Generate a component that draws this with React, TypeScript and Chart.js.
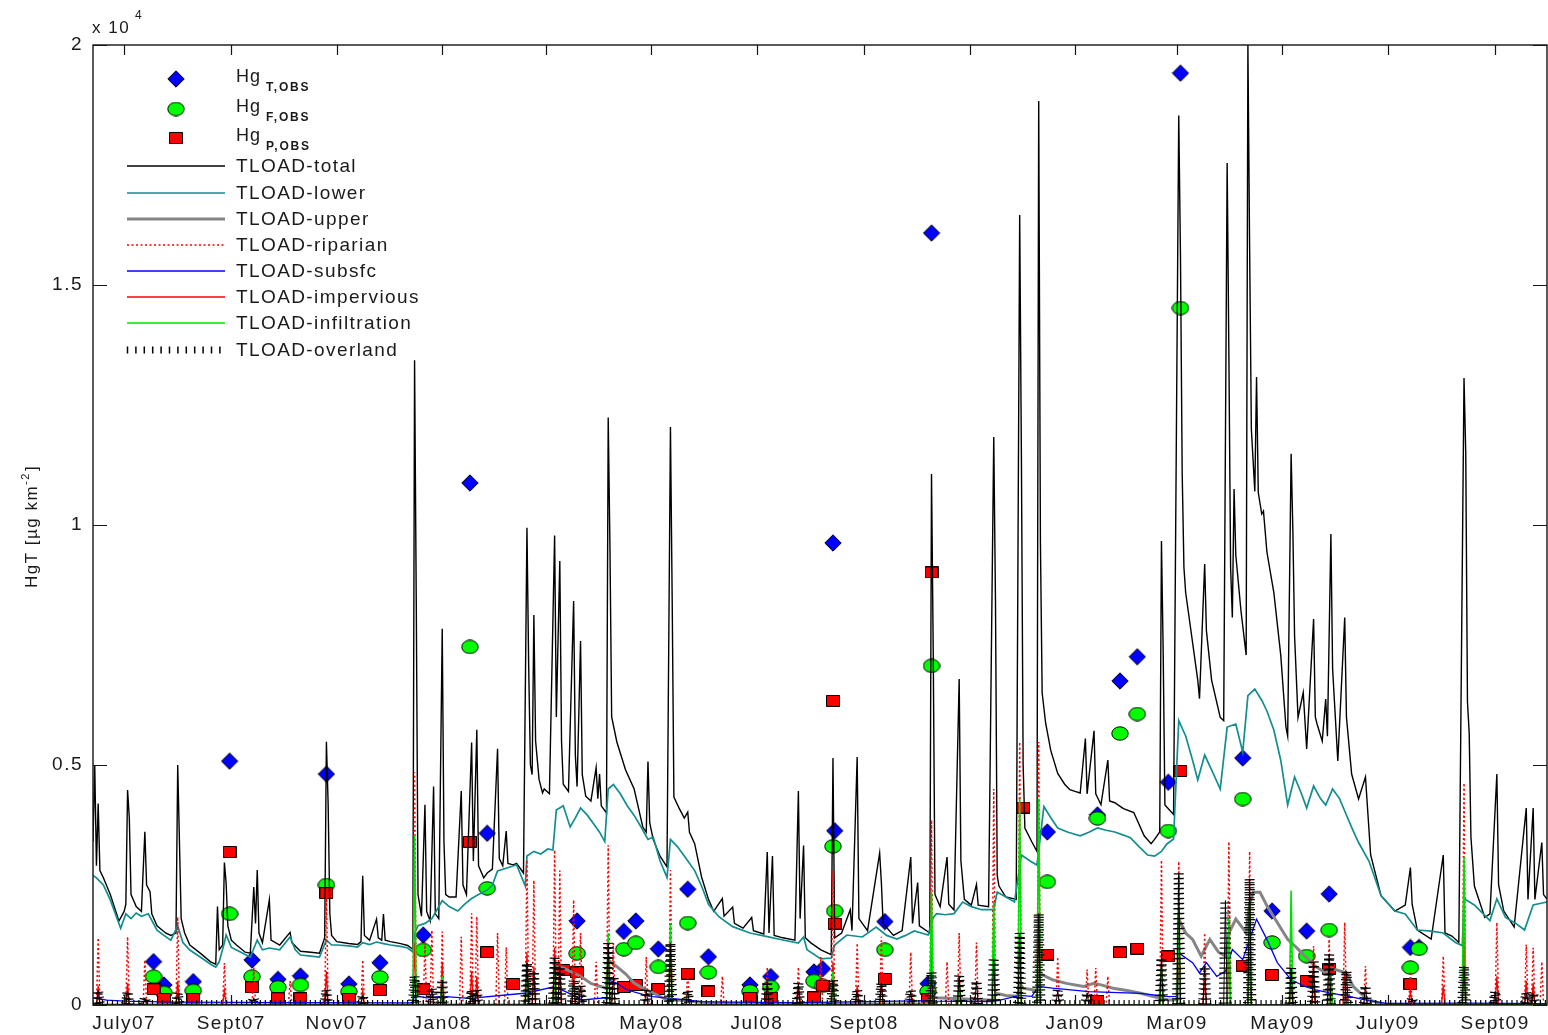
import { useEffect, useRef } from 'react';
import { Chart, registerables } from 'chart.js';

Chart.register(...registerables);

// x values are days counted from 1 July 2007
const X_MIN = -18;
const X_MAX = 823;
const MONTH_TICKS = [0, 62, 123, 184, 244, 305, 366, 428, 489, 550, 609, 670, 731, 793];
const MONTH_LABELS = ['July07', 'Sept07', 'Nov07', 'Jan08', 'Mar08', 'May08', 'Jul08', 'Sept08', 'Nov08', 'Jan09', 'Mar09', 'May09', 'July09', 'Sept09'];
const Y_TICKS = [0, 5000, 10000, 15000, 20000];

type Pair = [number, number];

// daily HgT load, µg km^-2  [day, value]
const TLOAD_TOTAL: Pair[] = [
  [-18, 3400], [-17, 5000], [-16, 2900], [-15, 4200], [-14, 2800], [-12, 2650], [-8, 2300], [-3, 1750], [0, 1950], [1, 2100], [2, 4480], [3, 3900], [4, 2300], [7, 2050], [10, 1950], [12, 3610], [13, 2500], [15, 2360], [16, 1900], [19, 1650], [24, 1500], [27, 1450], [30, 1500], [31, 5000], [32, 3400], [33, 1800], [35, 1500], [38, 1250], [44, 1080], [50, 900], [53, 850], [54, 2050], [55, 1150], [57, 1250], [58, 2970], [59, 2540], [60, 1650], [62, 1350], [65, 1250], [70, 1100], [73, 1080], [75, 2460], [76, 1700], [77, 2810], [78, 1500], [80, 1300], [84, 2190], [85, 1350], [90, 1250], [96, 1514], [97, 1300], [102, 1120], [108, 1100], [113, 1080], [116, 1400], [117, 5485], [118, 4200], [119, 1900], [120, 1450], [123, 1320], [130, 1280], [135, 1260], [137, 1320], [138, 2690], [139, 1450], [142, 1350], [146, 1790], [147, 1400], [149, 1350], [150, 1896], [151, 1350], [154, 1320], [160, 1280], [164, 1240], [167, 1160],
  [168, 13430], [169, 8290], [170, 2300], [172, 1850], [174, 4170], [175, 1950], [177, 1750], [179, 4550], [180, 1900], [182, 1800], [184, 7840], [185, 3400], [186, 2300], [188, 2250], [192, 2250], [195, 4460], [196, 2500], [198, 2300], [201, 5470], [202, 3000], [204, 5735], [205, 2900], [208, 2650], [210, 2750], [213, 2830], [216, 5340], [217, 3050], [219, 2900], [221, 3625], [222, 2950], [225, 2920], [227, 2950], [231, 2750], [233, 9940], [234, 7060], [235, 5000], [236, 4800], [237, 8125], [238, 5500], [240, 4700], [242, 4420], [243, 4500], [246, 4400], [249, 9780], [250, 6000], [252, 9250], [253, 5500], [254, 4600], [257, 4450], [260, 8416], [261, 5200], [262, 4550], [264, 7583], [265, 4800], [267, 4350], [270, 4250], [273, 4944], [274, 4300], [275, 4812], [276, 4150], [279, 4000], [280, 12240], [281, 9560], [282, 6000], [285, 5480], [290, 4900], [295, 4500], [300, 3708], [302, 3600], [303, 5075], [304, 3800], [306, 3450], [310, 3100], [314, 2875], [316, 12040], [317, 8460], [318, 4333], [321, 4100], [324, 3896], [326, 4020], [327, 3600], [330, 3362], [334, 2667], [338, 2200], [341, 1950], [346, 2219], [347, 1850], [352, 2041], [353, 1700], [358, 1600], [363, 1823], [364, 1550], [370, 1480], [372, 3187], [373, 1500], [375, 3104], [376, 1450], [381, 1400], [388, 1350], [390, 4458], [391, 1800], [393, 3323], [394, 1400], [397, 1300], [403, 1150], [409, 1050], [410, 5146], [411, 1400], [415, 1500], [420, 1985], [421, 1550], [424, 5166], [425, 1800], [430, 1550], [437, 3166], [438, 2552], [439, 1700], [445, 1450], [450, 1550], [455, 3083], [456, 1700], [459, 2552], [460, 1650], [466, 1500], [467, 11062], [468, 7350], [469, 2300], [472, 2050], [476, 3083], [477, 2100], [480, 1980], [483, 6791], [484, 3000], [486, 2200], [490, 2080], [493, 2510], [494, 2080], [500, 2050], [503, 11833], [504, 8417], [505, 2700], [506, 2479], [510, 2250], [516, 2200], [518, 16458], [519, 11400], [520, 5000], [521, 3687], [525, 3400], [528, 3200], [529, 18833], [530, 9604], [531, 6500], [533, 5875], [536, 5300], [540, 4823], [544, 4600], [547, 4487], [550, 4450], [553, 4417], [556, 5552], [557, 4400], [561, 5714], [562, 4400], [565, 4173], [569, 5104], [570, 4250], [573, 4214], [578, 4091], [584, 4010], [590, 3525], [594, 3362], [596, 3450], [599, 3604],
  [600, 9666], [601, 7354], [602, 4166], [607, 3971], [610, 18530], [611, 15600], [612, 11066], [613, 9114], [614, 8593], [617, 7812], [621, 6770], [622, 6380], [625, 9187], [626, 7800], [629, 6770], [634, 5990], [636, 5925], [638, 17540], [639, 13540], [640, 9114], [641, 8073], [642, 10750], [643, 9375], [646, 8208], [649, 7290], [650, 20000], [651, 15754], [652, 12000], [654, 10700], [655, 13083], [656, 10677], [658, 10229], [659, 10291], [661, 9437], [665, 8593], [669, 7290], [672, 5791], [673, 5604], [675, 11483], [676, 9896], [677, 7687], [679, 5990], [682, 6510], [684, 5333], [688, 8041], [689, 6000], [690, 5854], [693, 5500], [695, 6375], [696, 5600], [698, 9812], [699, 7000], [702, 5083], [706, 8073], [707, 6000], [710, 4812], [714, 4291], [718, 4750], [721, 3125], [727, 2279], [735, 1958], [741, 2083], [744, 2864], [745, 2100], [748, 1562], [756, 1375], [763, 3125], [764, 1500], [768, 1437], [772, 1302], [775, 13060], [776, 11500], [777, 6312], [778, 5666], [779, 3500], [781, 2479], [787, 1823], [790, 1900], [794, 4812], [795, 2500], [798, 1958], [804, 1625], [811, 4104], [812, 2200], [815, 4104], [816, 2200], [820, 3385], [821, 2300], [823, 2208],
];

const TLOAD_LOWER: Pair[] = [
  [-18, 2700], [-16, 2650], [-12, 2500], [-8, 2190], [-2, 1600], [1, 1900], [4, 1800], [7, 1916], [10, 1850], [14, 1900], [19, 1560], [23, 1450], [27, 1350], [31, 1650], [34, 1300], [38, 1146], [44, 1000], [50, 850], [53, 790], [55, 900], [58, 1300], [59, 1458], [62, 1200], [65, 1146], [70, 1050], [73, 1000], [77, 1354], [80, 1150], [84, 1187], [90, 1150], [96, 1417], [99, 1150], [102, 1042], [108, 1020], [113, 1000], [117, 1354], [120, 1250], [123, 1250], [130, 1230], [135, 1208], [138, 1300], [142, 1260], [146, 1312], [150, 1280], [154, 1250], [160, 1220], [164, 1187], [167, 1104],
  [168, 1500], [170, 1650], [174, 1700], [178, 1800], [184, 2175], [188, 2050], [193, 1958], [197, 2100], [201, 2219], [205, 2300], [210, 2396], [213, 2500], [216, 2792], [221, 2850], [227, 2923], [232, 2479], [233, 3104], [237, 3200], [241, 3146], [245, 3250], [248, 3229], [250, 4062], [254, 4152], [258, 3708], [261, 3900], [264, 4104], [268, 3950], [271, 3800], [275, 3600], [278, 3404], [280, 4500], [283, 4592], [287, 4400], [291, 4152], [295, 3950], [299, 3708], [303, 3448], [306, 3500], [310, 3000], [314, 2658], [316, 3448], [320, 3300], [324, 3104], [330, 2800], [334, 2479], [338, 2100], [344, 1840], [352, 1632], [362, 1500], [372, 1423], [381, 1354], [390, 1291], [393, 1417], [395, 1150], [403, 960], [409, 979], [411, 1250], [418, 1458], [427, 1417], [435, 1625], [441, 1450], [447, 1375], [452, 1450], [457, 1542], [465, 1458], [468, 1823], [470, 1904], [475, 1880], [480, 1904], [485, 2146], [490, 2050], [496, 1985], [503, 1985], [505, 2354], [510, 2250], [515, 2146], [519, 3125], [524, 3000], [528, 2916], [532, 4133], [536, 3900], [540, 3687], [546, 3600], [553, 3525], [558, 3600], [563, 3687], [568, 3640], [573, 3604], [578, 3540], [582, 3485], [587, 3300], [592, 3125], [596, 3100], [600, 3200], [603, 3350], [607, 3458],
  [610, 5925], [614, 5604], [618, 5100], [621, 4687], [625, 5208], [629, 4900], [634, 4500], [638, 5791], [643, 5854], [647, 5270], [650, 6445], [654, 6583], [658, 6350], [661, 6125], [665, 5729], [669, 5100], [673, 4166], [677, 4750], [681, 4400], [684, 4104], [688, 4562], [692, 4300], [695, 4166], [699, 4500], [703, 4300], [706, 4041], [710, 3700], [714, 3385], [720, 3000], [727, 2279], [735, 1958], [741, 1896], [748, 1562], [756, 1540], [763, 1500], [770, 1302], [774, 1237], [775, 2212], [781, 2083], [790, 1758], [794, 2212], [799, 1823], [805, 1700], [810, 1562], [815, 2083], [823, 2146],
];

const TLOAD_UPPER: Pair[] = [
  [-18, 0], [248, 0], [250, 800], [254, 770], [258, 700], [264, 600], [270, 450], [276, 381], [279, 350], [280, 937], [285, 798], [290, 650], [295, 458], [300, 350], [306, 250], [314, 104], [320, 104], [330, 69], [340, 40], [360, 30], [400, 20], [466, 20], [467, 200], [470, 150], [503, 100], [504, 250], [510, 200], [517, 180], [518, 450], [520, 350], [528, 300], [529, 667], [537, 525], [545, 450], [555, 385], [561, 454], [565, 420], [572, 350], [580, 300], [588, 244], [596, 173], [604, 104], [609, 110], [610, 1788], [614, 1500], [618, 1367], [623, 1017], [628, 1367], [633, 1100], [637, 1017], [639, 1500], [643, 1788], [649, 1506], [651, 2100], [653, 2348], [657, 2348], [661, 2069], [667, 1717], [673, 1367], [678, 1200], [683, 1017], [689, 806], [695, 667], [698, 760], [701, 735], [707, 667], [711, 385], [715, 250], [720, 104], [730, 0], [823, 0],
];

const TLOAD_SUBSFC: Pair[] = [
  [-18, 150], [-10, 100], [0, 80], [30, 60], [100, 50], [167, 45], [168, 200], [175, 150], [184, 180], [200, 140], [233, 250], [249, 381], [260, 200], [265, 104], [275, 139], [279, 150], [280, 521], [285, 450], [291, 312], [300, 220], [306, 173], [316, 139], [334, 69], [350, 60], [390, 50], [410, 60], [467, 90], [470, 80], [503, 70], [518, 200], [525, 180], [529, 385], [537, 350], [558, 279], [588, 244], [604, 173], [609, 180], [610, 1085], [618, 883], [622, 667], [626, 883], [632, 596], [637, 700], [641, 1156], [647, 946], [651, 1367], [655, 1788], [661, 1367], [667, 883], [675, 525], [683, 385], [689, 313], [699, 244], [709, 173], [720, 90], [730, 33], [775, 40], [823, 30],
];

// storm-event peaks [day, value]; the series rests at zero between them
const RIPARIAN_EVENTS: Pair[] = [
  [-15, 1400], [2, 1420], [12, 940], [31, 1830], [58, 875], [75, 790], [96, 500], [117, 2330], [138, 940], [168, 4850], [174, 1300], [178, 1560], [184, 1530], [195, 1420], [201, 1910], [204, 1840], [216, 1500], [221, 1200], [233, 3020], [237, 2600], [249, 3230], [252, 2800], [260, 2190], [264, 1500], [273, 900], [280, 3330], [283, 1290], [302, 1000], [316, 2810], [326, 700], [346, 600], [372, 790], [390, 790], [403, 1000], [410, 2800], [424, 1290], [438, 1420], [455, 1100], [467, 3850], [476, 900], [483, 1500], [493, 1300], [503, 4500], [518, 5480], [529, 5480], [540, 1000], [557, 738], [562, 771], [569, 600], [600, 3020], [610, 2990], [625, 1500], [639, 3400], [651, 3200], [675, 1200], [688, 1230], [697, 1370], [706, 1720], [718, 812], [744, 700], [763, 1020], [775, 4625], [794, 1720], [811, 1260], [815, 1190], [820, 900],
];

const IMPERVIOUS_EVENTS: Pair[] = [
  [-15, 400], [2, 450], [31, 500], [58, 300], [117, 700], [138, 300], [168, 1300], [184, 900], [201, 700], [204, 600], [233, 1100], [237, 800], [249, 1200], [252, 900], [260, 700], [280, 1200], [316, 1000], [372, 350], [390, 350], [410, 900], [424, 400], [438, 500], [467, 1200], [483, 600], [503, 1300], [518, 1500], [529, 1700], [600, 900], [610, 1300], [625, 500], [639, 1100], [651, 1000], [675, 400], [688, 500], [698, 600], [706, 700], [744, 300], [763, 400], [775, 1500], [794, 600], [811, 500], [815, 450],
];

const INFILTRATION_EVENTS: Pair[] = [
  [168, 3540], [184, 600], [233, 800], [249, 700], [280, 1500], [316, 1700], [410, 700], [467, 2354], [483, 500], [503, 2146], [518, 4300], [529, 4300], [600, 800], [610, 2042], [639, 1800], [651, 2175], [675, 2385], [698, 600], [775, 3087],
];

const OVERLAND_EVENTS: Pair[] = [
  [-15, 300], [2, 280], [12, 150], [31, 250], [75, 150], [117, 312], [138, 200], [168, 600], [178, 350], [184, 521], [201, 312], [204, 300], [233, 875], [237, 700], [249, 979], [252, 800], [260, 521], [264, 400], [280, 1291], [283, 600], [302, 312], [316, 1291], [326, 300], [372, 486], [390, 458], [410, 521], [424, 300], [438, 458], [455, 300], [467, 688], [483, 604], [493, 500], [503, 937], [518, 1500], [529, 1904], [540, 300], [557, 250], [600, 983], [610, 2735], [625, 800], [637, 2175], [651, 2631], [675, 771], [688, 900], [697, 1052], [707, 702], [718, 400], [745, 146], [775, 806], [793, 281], [811, 250], [815, 250],
];

// grab samples: total, filtered and particulate HgT
const SAMPLE_DAYS = [17, 23, 40, 61, 74, 89, 102, 117, 130, 148, 173, 200, 210, 225, 254, 262, 289, 296, 309, 326, 338, 362, 374, 399, 404, 410, 411, 440, 465, 467, 520, 534, 563, 576, 586, 604, 611, 647, 664, 684, 697, 744, 749];
const HG_T_OBS = [903, 417, 486, 5080, 937, 535, 604, 4810, 437, 881, 1458, 10875, 3577, null, null, 1750, 1533, 1750, 1167, 2412, 1004, 417, 592, 690, 754, 9625, 3630, 1737, 444, 16083, null, 3605, 3960, 6750, 7254, 4640, 19414, 5145, 1958, 1541, 2312, 1198, 1200];
const HG_F_OBS = [590, 256, 298, 1900, 590, 368, 417, 2500, 277, 577, 1146, 7460, 2430, null, null, 1075, 1162, 1296, 794, 1708, 679, 283, 375, 500, 400, 3306, 1958, 1150, 281, 7066, null, 2566, 3889, 5656, 6062, 3625, 14520, 4291, 1302, 1020, 1562, 781, 1171];
const HG_P_OBS = [327, 125, 125, 3190, 368, 140, 140, 2330, 125, 312, 327, 3400, 1100, 437, 729, 679, 375, 417, 333, 654, 283, 152, 152, 160, 406, 6337, 1696, 542, 119, 9011, 4114, 1052, 83, 1094, 1175, 1012, 4875, 821, 625, 500, 754, 437, null];

const FONT = '"Liberation Sans", Arial, Helvetica, sans-serif';
const TEXT_COLOR = '#1a1a1a';

const STYLES = {
  total: { label: 'TLOAD-total', color: '#000000', width: 1.4, dash: [] as number[] },
  lower: { label: 'TLOAD-lower', color: '#128e8e', width: 1.7, dash: [] as number[] },
  upper: { label: 'TLOAD-upper', color: '#858585', width: 3, dash: [] as number[] },
  riparian: { label: 'TLOAD-riparian', color: '#ff0000', width: 1.5, dash: [2, 2.5] },
  subsfc: { label: 'TLOAD-subsfc', color: '#0000ff', width: 1.3, dash: [] as number[] },
  impervious: { label: 'TLOAD-impervious', color: '#ff0000', width: 1.3, dash: [] as number[] },
  infiltration: { label: 'TLOAD-infiltration', color: '#00e000', width: 1.6, dash: [] as number[] },
  overland: { label: 'TLOAD-overland', color: '#000000', width: 1, dash: [] as number[] },
};

const toXY = (pairs: Pair[]) => pairs.map(([x, y]) => ({ x, y }));

const spikes = (events: Pair[]) => {
  const pts = [{ x: X_MIN, y: 0 }];
  for (const [d, v] of events) pts.push({ x: d - 1, y: 0 }, { x: d, y: v }, { x: d + 1, y: 0 });
  pts.push({ x: X_MAX, y: 0 });
  return pts;
};

const samples = (vals: (number | null)[]) =>
  SAMPLE_DAYS.map((d, i) => ({ x: d, y: vals[i] })).filter((p) => p.y !== null);

function markerCanvas(kind: 'T' | 'F' | 'P') {
  const c = document.createElement('canvas');
  const g = c.getContext('2d')!;
  if (kind === 'T') {
    c.width = 18; c.height = 18;
    g.beginPath();
    g.moveTo(9, 0.8); g.lineTo(17.2, 9); g.lineTo(9, 17.2); g.lineTo(0.8, 9); g.closePath();
    g.fillStyle = '#0000ff';
  } else if (kind === 'F') {
    c.width = 18; c.height = 15;
    g.beginPath();
    g.ellipse(9, 7.5, 8.2, 6.7, 0, 0, Math.PI * 2);
    g.fillStyle = '#00ff00';
  } else {
    c.width = 14; c.height = 12;
    g.beginPath();
    g.rect(0.5, 0.5, 13, 11);
    g.fillStyle = '#ff0000';
  }
  g.fill();
  g.lineWidth = 1;
  g.strokeStyle = '#000';
  g.stroke();
  return c;
}

// short strokes across the overland curve, spaced along its path
const overlandTicks = {
  id: 'overlandTicks',
  afterDatasetDraw(chart: any, args: any) {
    if (chart.data.datasets[args.index].label !== STYLES.overland.label) return;
    const pts = args.meta.data;
    const { ctx, chartArea: a } = chart;
    ctx.save();
    ctx.beginPath();
    ctx.rect(a.left, a.top, a.right - a.left, a.bottom - a.top);
    ctx.clip();
    ctx.strokeStyle = '#000';
    ctx.lineWidth = 1.2;
    ctx.beginPath();
    const step = 5;
    const half = 5;
    let carry = 0;
    for (let i = 1; i < pts.length; i++) {
      const p0 = pts[i - 1];
      const p1 = pts[i];
      const dx = p1.x - p0.x;
      const dy = p1.y - p0.y;
      const len = Math.hypot(dx, dy);
      if (len < 0.01) continue;
      const ux = dx / len;
      const uy = dy / len;
      let t = carry;
      while (t <= len) {
        const cx = p0.x + ux * t;
        const cy = p0.y + uy * t;
        ctx.moveTo(cx + uy * half, cy - ux * half);
        ctx.lineTo(cx - uy * half, cy + ux * half);
        t += step;
      }
      carry = t - len;
    }
    ctx.stroke();
    ctx.restore();
  },
};

const textSpacing = {
  id: 'textSpacing',
  beforeDraw(chart: any) {
    chart.ctx.letterSpacing = '1.5px';
  },
};

function makeDecor(markers: Record<string, HTMLCanvasElement>) {
  return {
    id: 'decor',
    afterDraw(chart: any) {
      const { ctx, chartArea: a, scales } = chart;
      ctx.save();
      // axes box with inward ticks
      ctx.strokeStyle = '#151515';
      ctx.lineWidth = 1.4;
      ctx.strokeRect(a.left, a.top, a.right - a.left, a.bottom - a.top);
      ctx.lineWidth = 1.2;
      ctx.beginPath();
      for (const v of MONTH_TICKS) {
        const x = Math.round(scales.x.getPixelForValue(v)) + 0.5;
        ctx.moveTo(x, a.bottom); ctx.lineTo(x, a.bottom - 10);
        ctx.moveTo(x, a.top); ctx.lineTo(x, a.top + 10);
      }
      for (const v of Y_TICKS) {
        const y = Math.round(scales.y.getPixelForValue(v)) + 0.5;
        ctx.moveTo(a.left, y); ctx.lineTo(a.left + 14, y);
        ctx.moveTo(a.right, y); ctx.lineTo(a.right - 14, y);
      }
      ctx.stroke();

      ctx.fillStyle = TEXT_COLOR;
      ctx.letterSpacing = '1.5px';
      ctx.textAlign = 'left';
      ctx.textBaseline = 'alphabetic';

      // exponent label above the y axis
      ctx.font = `17px ${FONT}`;
      ctx.fillText('x 10', 92, 33);
      ctx.font = `12px ${FONT}`;
      ctx.fillText('4', 135, 19);

      // y axis title
      ctx.save();
      ctx.translate(37, 527);
      ctx.rotate(-Math.PI / 2);
      ctx.font = `17px ${FONT}`;
      const t1 = 'HgT [µg km';
      const w1 = ctx.measureText(t1).width;
      ctx.font = `11px ${FONT}`;
      const t2 = '-2';
      const w2 = ctx.measureText(t2).width;
      ctx.font = `17px ${FONT}`;
      const t3 = ']';
      const w3 = ctx.measureText(t3).width;
      const x0 = -(w1 + w2 + w3) / 2;
      ctx.fillText(t1, x0, 0);
      ctx.font = `11px ${FONT}`;
      ctx.fillText(t2, x0 + w1, -8);
      ctx.font = `17px ${FONT}`;
      ctx.fillText(t3, x0 + w1 + w2 + 1, 0);
      ctx.restore();

      // legend
      const obs: [string, string, number][] = [['T', 'T,OBS', 79], ['F', 'F,OBS', 109], ['P', 'P,OBS', 138]];
      for (const [k, sub, y] of obs) {
        const img = markers[k];
        ctx.drawImage(img, 176 - img.width / 2, y - img.height / 2);
        ctx.letterSpacing = '1px';
        ctx.font = `18px ${FONT}`;
        ctx.fillText('Hg', 236, y + 3);
        ctx.letterSpacing = '1.8px';
        ctx.font = `bold 12px ${FONT}`;
        ctx.fillText(sub, 266, y + 12);
      }
      const rows: [keyof typeof STYLES, number][] = [
        ['total', 166], ['lower', 193], ['upper', 219], ['riparian', 245],
        ['subsfc', 271], ['impervious', 297], ['infiltration', 323], ['overland', 350],
      ];
      for (const [key, y] of rows) {
        const s = STYLES[key];
        ctx.save();
        ctx.strokeStyle = s.color;
        ctx.lineWidth = Math.max(s.width, 1.5);
        ctx.setLineDash(s.dash);
        ctx.beginPath();
        if (key === 'overland') {
          for (let x = 127.5; x <= 224; x += 8.4) {
            ctx.moveTo(x, y - 3.5); ctx.lineTo(x, y + 3.5);
          }
        } else {
          ctx.moveTo(127, y); ctx.lineTo(225, y);
        }
        ctx.stroke();
        ctx.restore();
        ctx.letterSpacing = '1.4px';
        ctx.font = `19px ${FONT}`;
        ctx.textBaseline = 'middle';
        ctx.fillText(s.label, 236, y + 1);
        ctx.textBaseline = 'alphabetic';
      }
      ctx.restore();
    },
  };
}

export default function App() {
  const ref = useRef<HTMLCanvasElement>(null);

  useEffect(() => {
    const canvas = ref.current;
    if (!canvas) return;
    const markers = { T: markerCanvas('T'), F: markerCanvas('F'), P: markerCanvas('P') };

    const lineSet = (key: keyof typeof STYLES, data: any[], order: number) => ({
      label: STYLES[key].label,
      data,
      borderColor: STYLES[key].color,
      borderWidth: STYLES[key].width,
      borderDash: STYLES[key].dash,
      pointRadius: 0,
      fill: false,
      tension: 0,
      order,
    });

    const markerSet = (label: string, vals: (number | null)[], img: HTMLCanvasElement, order: number) => ({
      label,
      data: samples(vals),
      showLine: false,
      pointStyle: img,
      pointRadius: 7,
      order,
    });

    const noEdgePadding = (s: any) => {
      s.paddingLeft = 0;
      s.paddingRight = 0;
      s.paddingTop = 0;
      s.paddingBottom = 0;
    };

    const chart = new Chart(canvas, {
      type: 'line',
      data: {
        datasets: [
          markerSet('HgT,OBS', HG_T_OBS, markers.T, 30),
          markerSet('HgF,OBS', HG_F_OBS, markers.F, 29),
          markerSet('HgP,OBS', HG_P_OBS, markers.P, 28),
          lineSet('total', toXY(TLOAD_TOTAL), 20),
          lineSet('lower', toXY(TLOAD_LOWER), 19),
          lineSet('upper', toXY(TLOAD_UPPER), 18),
          lineSet('riparian', spikes(RIPARIAN_EVENTS), 17),
          lineSet('subsfc', toXY(TLOAD_SUBSFC), 16),
          lineSet('impervious', spikes(IMPERVIOUS_EVENTS), 15),
          lineSet('infiltration', spikes(INFILTRATION_EVENTS), 14),
          lineSet('overland', spikes(OVERLAND_EVENTS), 13),
        ] as any,
      },
      options: {
        responsive: false,
        animation: false,
        events: [],
        layout: { autoPadding: false, padding: { top: 45, right: 1, left: 0, bottom: 0 } },
        plugins: { legend: { display: false }, tooltip: { enabled: false } },
        scales: {
          x: {
            type: 'linear',
            min: X_MIN,
            max: X_MAX,
            afterBuildTicks: (s: any) => { s.ticks = MONTH_TICKS.map((value) => ({ value })); },
            afterFit: (s: any) => { s.height = 30; noEdgePadding(s); },
            ticks: {
              autoSkip: false,
              maxRotation: 0,
              padding: 7,
              color: TEXT_COLOR,
              font: { family: FONT, size: 19 },
              callback: (v: any) => {
                const i = MONTH_TICKS.indexOf(Number(v));
                return i >= 0 ? MONTH_LABELS[i] : '';
              },
            },
            grid: { display: false, drawTicks: false, tickLength: 0 },
            border: { display: false },
          },
          y: {
            type: 'linear',
            min: 0,
            max: 20000,
            afterBuildTicks: (s: any) => { s.ticks = Y_TICKS.map((value) => ({ value })); },
            afterFit: (s: any) => { s.width = 93; noEdgePadding(s); },
            ticks: {
              padding: 10,
              color: TEXT_COLOR,
              font: { family: FONT, size: 19 },
              callback: (v: any) => String(Number(v) / 10000),
            },
            grid: { display: false, drawTicks: false, tickLength: 0 },
            border: { display: false },
          },
        },
      } as any,
      plugins: [textSpacing, overlandTicks, makeDecor(markers)],
    });

    return () => chart.destroy();
  }, []);

  return (
    <div style={{ position: 'absolute', left: 0, top: 0, width: 1548, height: 1035, background: '#ffffff' }}>
      <canvas ref={ref} width={1548} height={1035} style={{ display: 'block', width: 1548, height: 1035 }} />
    </div>
  );
}
